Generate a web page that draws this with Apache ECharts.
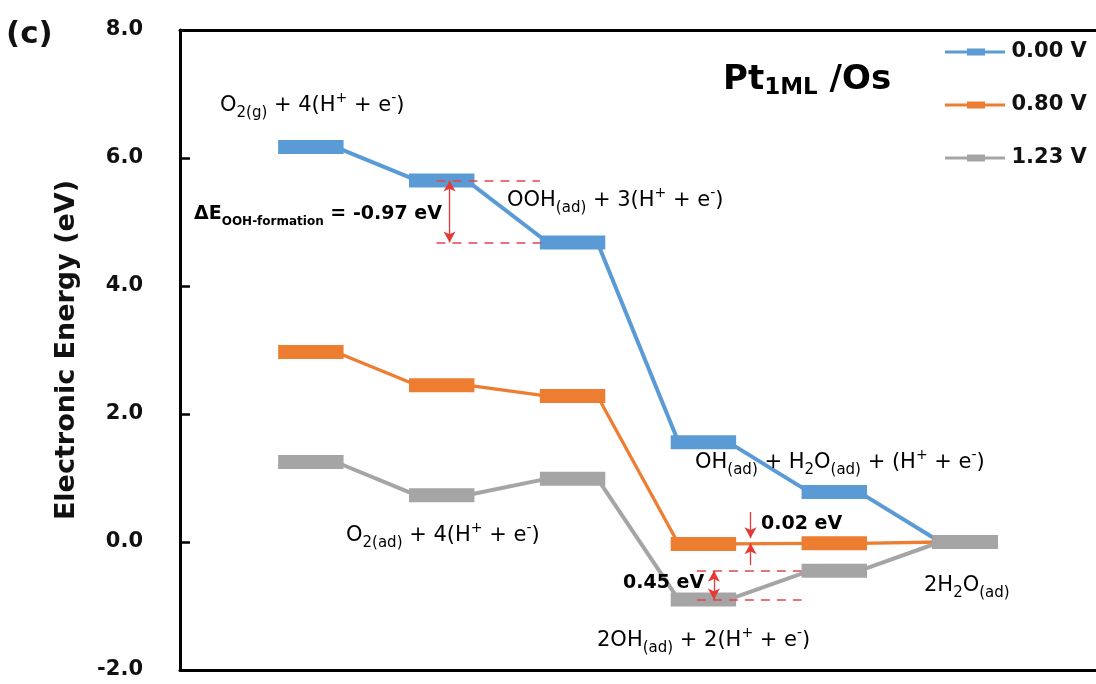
<!DOCTYPE html>
<html>
<head>
<meta charset="utf-8">
<script src="https://cdn.jsdelivr.net/npm/echarts@6/dist/echarts.min.js"></script>
<style>
html,body{margin:0;padding:0;background:#fff;}
#chart{width:1096px;height:684px;}
</style>
</head>
<body>
<div id="chart"></div>
<script>
// ---- data ----
const steps = [1, 2, 3, 4, 5, 6];
const stepNames = ['O2(g)+4(H+ + e-)', 'O2(ad)+4(H+ + e-)', 'OOH(ad)+3(H+ + e-)', '2OH(ad)+2(H+ + e-)', 'OH(ad)+H2O(ad)+(H+ + e-)', '2H2O(ad)'];
const seriesNames = ['0.00 V', '0.80 V', '1.23 V'];
const energy000 = [6.17, 5.65, 4.68, 1.56, 0.78, 0.00];
const energy080 = [2.97, 2.45, 2.28, -0.03, -0.02, 0.00];
const energy123 = [1.25, 0.73, 0.99, -0.90, -0.45, 0.00];
const yTicks = [-2, 0, 2, 4, 6, 8];
// annotation guides in data units: [x1, y1, x2, y2, kind]
const guides = [
  [1.96, 5.65, 2.75, 5.65, 'dash'],
  [1.96, 4.68, 2.77, 4.68, 'dash'],
  [2.06, 5.65, 2.06, 4.68, 'both'],
  [4.36, 0.47, 4.36, 0.06, 'end'],
  [4.36, -0.36, 4.36, -0.02, 'end'],
  [3.95, -0.45, 4.75, -0.45, 'dash'],
  [3.95, -0.90, 4.75, -0.90, 'dash'],
  [4.08, -0.45, 4.08, -0.90, 'both']
];

const colors = ['#5B9BD5', '#ED7D31', '#A5A5A5'];
const HALF = 0.25, JOIN = 0.19;
const F = 'DejaVu Sans';

function makeRender(vals, color, lw) {
  return function (params, api) {
    const i = params.dataIndex;
    const x = api.value(0), y = api.value(1);
    const p0 = api.coord([x - HALF, y]);
    const p1 = api.coord([x + HALF, y]);
    const children = [];
    if (i < vals.length - 1) {
      const a = api.coord([x + JOIN, y]);
      const b = api.coord([steps[i + 1] - JOIN, vals[i + 1]]);
      children.push({type: 'line', shape: {x1: a[0], y1: a[1], x2: b[0], y2: b[1]}, style: {stroke: color, lineWidth: lw}});
    }
    children.push({type: 'rect', shape: {x: p0[0], y: p0[1] - 7, width: p1[0] - p0[0], height: 14}, style: {fill: color}});
    return {type: 'group', children: children};
  };
}

function mkSeries(name, vals, color, lw) {
  return {
    name: name, type: 'custom', clip: false,
    itemStyle: {color: color},
    data: steps.map((s, i) => [s, vals[i]]),
    renderItem: makeRender(vals, color, lw),
    encode: {x: 0, y: 1}
  };
}

const red = '#E53935';
const markData = guides.map(g => {
  const kind = g[4];
  const ls = kind === 'dash'
    ? {type: [9, 7], color: '#E0474C', width: 1.6}
    : {type: 'solid', color: red, width: 1.3};
  return [
    {coord: [g[0], g[1]], symbol: kind === 'both' ? 'arrow' : 'none', symbolSize: [9, 11], lineStyle: ls},
    {coord: [g[2], g[3]], symbol: kind === 'dash' ? 'none' : 'arrow', symbolSize: [9, 11]}
  ];
});

const main = {fontFamily: F, fontSize: 21, color: '#111', lineHeight: 30, verticalAlign: 'middle'};
const sub = {fontFamily: F, fontSize: 15, color: '#111', lineHeight: 15, verticalAlign: 'bottom'};
const sup = {fontFamily: F, fontSize: 14, color: '#111', lineHeight: 14, verticalAlign: 'top'};
const richN = {n: main, s: sub, p: sup};
const bmain = {fontFamily: F, fontSize: 19, fontWeight: 'bold', color: '#111', lineHeight: 28};
const bsub = {fontFamily: F, fontSize: 12, fontWeight: 'bold', color: '#111', lineHeight: 12, verticalAlign: 'bottom'};

function label(x, y, text, rich) {
  return {type: 'text', x: x, y: y, silent: true, z: 50,
    style: {text: text, rich: rich || richN, align: 'left', verticalAlign: 'middle'}};
}

const frameX = {
  type: 'value', min: 0, max: 7,
  axisLine: {show: true, onZero: false, lineStyle: {color: '#000', width: 3}},
  axisTick: {show: false}, axisLabel: {show: false}, splitLine: {show: false}
};

const chart = echarts.init(document.getElementById('chart'));
chart.setOption({
  animation: false,
  backgroundColor: '#fff',
  grid: {left: 180, right: 0, top: 30, bottom: 14},
  xAxis: [
    Object.assign({position: 'bottom'}, frameX),
    Object.assign({position: 'top'}, frameX)
  ],
  yAxis: {
    type: 'value', min: yTicks[0], max: yTicks[yTicks.length - 1], interval: 2,
    axisLine: {show: true, onZero: false, lineStyle: {color: '#000', width: 3}},
    axisTick: {show: true, inside: true, length: 10, lineStyle: {color: '#000', width: 2.5}},
    splitLine: {show: false},
    axisLabel: {formatter: v => v.toFixed(1), fontFamily: F, fontWeight: 'bold', fontSize: 21, color: '#111', margin: 37},
    name: 'Electronic Energy (eV)', nameLocation: 'middle', nameGap: 100,
    nameTextStyle: {fontFamily: F, fontWeight: 'bold', fontSize: 27, color: '#111'}
  },
  legend: {
    data: seriesNames, orient: 'vertical', left: 945, top: 40, padding: 0,
    itemWidth: 63, itemHeight: 7, itemGap: 29, selectedMode: false,
    icon: 'path://M0,4 L60,4 L60,7 L0,7 Z M22,2 L40,2 L40,9 L22,9 Z',
    textStyle: {fontFamily: F, fontWeight: 'bold', fontSize: 21, color: '#111', lineHeight: 24}
  },
  series: [
    mkSeries(seriesNames[0], energy000, colors[0], 4),
    mkSeries(seriesNames[1], energy080, colors[1], 3.3),
    mkSeries(seriesNames[2], energy123, colors[2], 4),
    {
      name: 'guides', type: 'line', data: [], silent: true,
      markLine: {silent: true, animation: false, label: {show: false}, data: markData, z: 10}
    }
  ],
  graphic: [
    {type: 'text', left: 6, top: 19, style: {text: '(c)', fontFamily: F, fontWeight: 'bold', fontSize: 31, fill: '#111'}},
    {type: 'text', x: 723, y: 80, style: {
      text: '{a|Pt}{b|1ML}{a| /Os}', align: 'left', verticalAlign: 'middle',
      rich: {
        a: {fontFamily: F, fontWeight: 'bold', fontSize: 34, color: '#000', lineHeight: 40},
        b: {fontFamily: F, fontWeight: 'bold', fontSize: 23, color: '#000', lineHeight: 24, verticalAlign: 'bottom'}
      }}},
    label(220, 106, '{n|O}{s|2(g)}{n| + 4(H}{p|+}{n| + e}{p|-}{n|)}'),
    label(507, 201, '{n|OOH}{s|(ad)}{n| + 3(H}{p|+}{n| + e}{p|-}{n|)}'),
    label(346, 536, '{n|O}{s|2(ad)}{n| + 4(H}{p|+}{n| + e}{p|-}{n|)}'),
    label(695, 463, '{n|OH}{s|(ad)}{n| + H}{s|2}{n|O}{s|(ad)}{n| + (H}{p|+}{n| + e}{p|-}{n|)}'),
    label(597, 641, '{n|2OH}{s|(ad)}{n| + 2(H}{p|+}{n| + e}{p|-}{n|)}'),
    label(924, 586, '{n|2H}{s|2}{n|O}{s|(ad)}'),
    label(194, 214, '{m|ΔE}{u|OOH-formation}{m| = -0.97 eV}', {m: bmain, u: bsub}),
    label(761, 524, '{m|0.02 eV}', {m: bmain}),
    label(623, 583, '{m|0.45 eV}', {m: bmain})
  ]
});
</script>
</body>
</html>
